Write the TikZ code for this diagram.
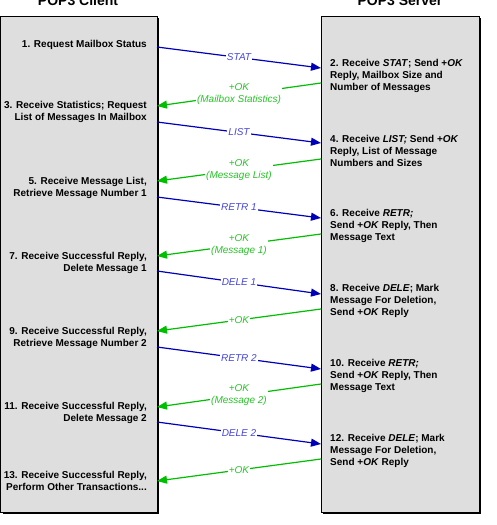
\documentclass[tikz,border=0pt]{standalone}
\usepackage{fontspec}
\setmainfont{Liberation Sans}
\usetikzlibrary{arrows.meta}

\definecolor{reqline}{RGB}{0,0,185}
\definecolor{reqtext}{RGB}{70,70,225}
\definecolor{replyline}{RGB}{0,190,0}
\definecolor{replytext}{RGB}{40,195,40}
\definecolor{boxgray}{RGB}{222,222,222}

\begin{document}
\begin{tikzpicture}[x=1pt, y=-1pt,
    box/.style={draw=black, fill=boxgray, line width=0.8pt},
    title/.style={anchor=base, font=\fontsize{14}{16}\selectfont\bfseries},
    client step/.style={anchor=east, align=right, inner sep=0pt,
                        font=\fontsize{10}{12}\selectfont\bfseries},
    server step/.style={anchor=west, align=left, inner sep=0pt,
                        font=\fontsize{10}{12}\selectfont\bfseries},
    request/.style={draw=reqline, line width=1.2pt, -{Triangle[length=10pt,width=8pt]}},
    reply/.style={draw=replyline, line width=1.2pt, -{Triangle[length=10pt,width=8pt]}},
    msg/.style={fill=white, inner sep=1pt, align=center,
                font=\fontsize{10}{12}\selectfont\itshape}]

  \useasboundingbox (0,0) rectangle (496,525);

  % the two boxes, with their shadows
  \fill[black] (2.5,18) rectangle (159,514);
  \path[box] (0.5,16) rectangle (157,512);
  \fill[black] (323,18) rectangle (481,514);
  \path[box] (321,16) rectangle (479,512);

  \node[title] (client) at (78,5) {POP3 Client};
  \node[title] (server) at (400,5) {POP3 Server};

  % client side
  \node[client step] (1)  at (147,45)  {1. Request Mailbox Status};
  \node[client step] (3)  at (147,112) {3. Receive Statistics; Request\\List of Messages In Mailbox};
  \node[client step] (5)  at (147,188) {5. Receive Message List,\\Retrieve Message Number 1};
  \node[client step] (7)  at (147,263) {7. Receive Successful Reply,\\Delete Message 1};
  \node[client step] (9)  at (147,338) {9. Receive Successful Reply,\\Retrieve Message Number 2};
  \node[client step] (11) at (147,413) {11. Receive Successful Reply,\\Delete Message 2};
  \node[client step] (13) at (147,481) {13. Receive Successful Reply,\\Perform Other Transactions...};

  % server side
  \node[server step] (2)  at (330,76)  {2. Receive \textit{STAT}; Send +\textit{OK}\\Reply, Mailbox Size and\\Number of Messages};
  \node[server step] (4)  at (330,151) {4. Receive \textit{LIST;} Send +\textit{OK}\\Reply, List of Message\\Numbers and Sizes};
  \node[server step] (6)  at (330,226) {6. Receive \textit{RETR;}\\Send +\textit{OK} Reply, Then\\Message Text};
  \node[server step] (8)  at (330,301) {8. Receive \textit{DELE}; Mark\\Message For Deletion,\\Send +\textit{OK} Reply};
  \node[server step] (10) at (330,376) {10. Receive \textit{RETR;}\\Send +\textit{OK} Reply, Then\\Message Text};
  \node[server step] (12) at (330,451) {12. Receive \textit{DELE}; Mark\\Message For Deletion,\\Send +\textit{OK} Reply};

  % ends of the messages on the box edges
  \coordinate (stat c) at (157,47);   \coordinate (stat s) at (321,68);
  \coordinate (ok1 s)  at (321,83);   \coordinate (ok1 c)  at (157,106);
  \coordinate (list c) at (157,122);  \coordinate (list s) at (321,143);
  \coordinate (ok2 s)  at (321,159);  \coordinate (ok2 c)  at (157,181);
  \coordinate (retr1 c) at (157,197); \coordinate (retr1 s) at (321,218);
  \coordinate (ok3 s)  at (321,234);  \coordinate (ok3 c)  at (157,256);
  \coordinate (dele1 c) at (157,271); \coordinate (dele1 s) at (321,294);
  \coordinate (ok4 s)  at (321,309);  \coordinate (ok4 c)  at (157,331);
  \coordinate (retr2 c) at (157,347); \coordinate (retr2 s) at (321,369);
  \coordinate (ok5 s)  at (321,384);  \coordinate (ok5 c)  at (157,407);
  \coordinate (dele2 c) at (157,422); \coordinate (dele2 s) at (321,444);
  \coordinate (ok6 s)  at (321,459);  \coordinate (ok6 c)  at (157,481);

  \path[every node/.style={msg, text=reqtext}]
    (stat c)  edge[request] node {STAT} (stat s)
    (list c)  edge[request] node {LIST} (list s)
    (retr1 c) edge[request] node {RETR 1} (retr1 s)
    (dele1 c) edge[request] node {DELE 1} (dele1 s)
    (retr2 c) edge[request] node {RETR 2} (retr2 s)
    (dele2 c) edge[request] node {DELE 2} (dele2 s);

  \path[every node/.style={msg, text=replytext}]
    (ok1 s) edge[reply] node {+OK\\(Mailbox Statistics)} (ok1 c)
    (ok2 s) edge[reply] node {+OK\\(Message List)} (ok2 c)
    (ok3 s) edge[reply] node {+OK\\(Message 1)} (ok3 c)
    (ok4 s) edge[reply] node {+OK} (ok4 c)
    (ok5 s) edge[reply] node {+OK\\(Message 2)} (ok5 c)
    (ok6 s) edge[reply] node {+OK} (ok6 c);
\end{tikzpicture}
\end{document}
